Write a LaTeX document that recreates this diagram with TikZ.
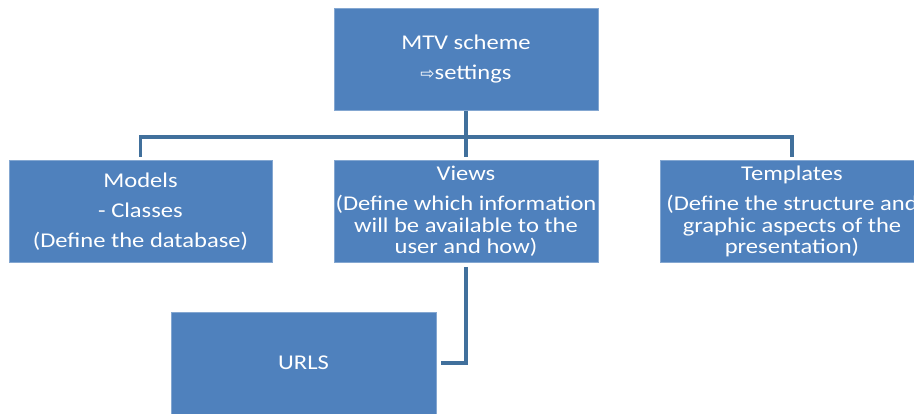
\documentclass[tikz,border=0pt]{standalone}
\usepackage{fontspec}
\setmainfont{Carlito}[FakeStretch=1.17]
\newfontfamily\symfont{DejaVu Sans}
\definecolor{boxblue}{HTML}{4F81BD}
\definecolor{lineblue}{HTML}{41709C}
\begin{document}
\begin{tikzpicture}[x=1pt,y=1pt,
  box/.style={fill=boxblue, draw=boxblue!70!white, line width=0.6pt, minimum width=264pt, minimum height=102pt,
    inner sep=0pt, text=white, align=center, font=\fontsize{21}{21.5}\selectfont},
  conn/.style={draw=lineblue, line width=3.6pt}]
\useasboundingbox (0,0) rectangle (914,413);
\begin{scope}
\clip (0,0) rectangle (914,413);
\node[box] (top) at (466,353.5) {MTV scheme\\[8.5pt]{\symfont\fontsize{17}{17}\selectfont ⇨}settings};
\node[box, minimum width=263pt] (models) at (140.5,201.5) {Models\\[8.5pt]- Classes\\[8.5pt](Define the database)};
\node[box] (views) at (466,201.5) {Views\\[8.5pt](Define which information\\will be available to the\\user and how)};
\node[box] (templates) at (792,201.5) {Templates\\[8.5pt](Define the structure and\\graphic aspects of the\\presentation)};
\node[box, minimum width=265pt] (urls) at (303.5,50) {URLS};
\coordinate (bus) at (466,276);
\draw[conn] (top.south) -- (bus);
\draw[conn, shorten >=3pt] (bus) -| (models.north);
\draw[conn, shorten >=3pt] (bus) -| (templates.north);
\draw[conn, shorten >=3pt] (bus) -- (views.north);
\draw[conn, shorten <=4pt, shorten >=5pt] (views.south) |- (urls.east);
\end{scope}
\end{tikzpicture}
\end{document}
